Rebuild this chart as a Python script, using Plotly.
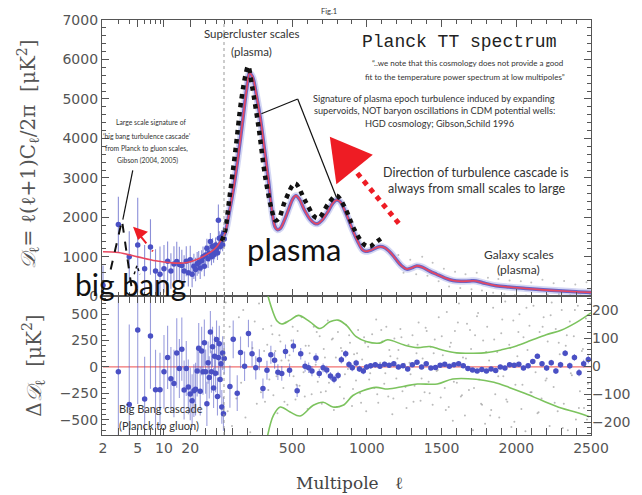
import numpy as np
import plotly.graph_objects as go

# ---------------- data ----------------
# best-fit model, top panel
model_l = [2, 3, 5, 8, 12, 18, 25, 32, 40, 46, 50, 80, 110, 140, 170, 195, 214, 235, 260, 287,
           315, 342, 365, 385, 400, 420, 450, 480, 505, 525, 550, 580, 620, 650, 670, 700, 740, 770, 796, 820,
           860, 900, 940, 970, 990, 1020, 1060, 1090, 1120, 1160, 1190, 1230, 1266, 1300, 1333, 1370, 1420, 1466, 1520, 1576,
           1630, 1690, 1731, 1790, 1864, 1950, 2063, 2180, 2284, 2400, 2500]
model_D = [1130, 1110, 1000, 900, 850, 850, 950, 1080, 1250, 1450, 1600, 2150, 2800, 3600, 4500, 5250, 5650, 5550, 5100, 4500,
           3700, 2900, 2150, 1760, 1690, 1720, 1950, 2250, 2480, 2550, 2450, 2200, 1950, 1850, 1840, 1930, 2150, 2350, 2440, 2400,
           2100, 1720, 1380, 1180, 1140, 1160, 1230, 1260, 1230, 1100, 960, 780, 690, 720, 770, 740, 640, 560, 470, 400,
           380, 390, 390, 330, 270, 235, 200, 165, 140, 115, 100]

# black dotted "turbulence cascade" curve
casc_l = [46, 50, 80, 120, 160, 190, 205, 231, 276, 320, 364, 387, 409, 453, 519, 586, 652, 680, 741, 796, 851, 918, 984, 1020, 1051, 1106]
casc_D = [1400, 1650, 2500, 3700, 5000, 5650, 5830, 5331, 4252, 3007, 2175, 1926, 1968, 2424, 2857, 2424, 2010, 1990, 2342, 2549, 2260, 1677, 1303, 1260, 1345, 1495]

# black dashed low-l "big bang" spike
bb_l = [2.45, 3.3, 4.3]
bb_D = [680, 1926, 150]
bb2_l = [4.55, 4.9, 5.3]
bb2_D = [560, 780, 560]

# low-l data points (top panel)
low_l = list(range(2, 50))
low_D = [280, 1820, 1000, 1300, 700, 1250, 640, 560, 700, 890, 640, 820, 880, 805, 780, 640, 890, 600, 930, 560,
         760, 680, 822, 860, 720, 900, 1000, 760, 1050, 1220, 950, 1100, 1387, 1000, 1263, 1050, 1138, 1300, 1200, 1100,
         1926, 1470, 1263, 1350, 1512, 1300, 1594, 1450]
low_err = [500, 700, 650, 1200, 600, 700, 550, 700, 600, 500, 450, 450, 500, 450, 400, 400, 380, 350, 350, 330,
           320, 300, 300, 290, 280, 270, 260, 250, 240, 240, 230, 220, 220, 210, 210, 200, 200, 190, 190, 180,
           400, 180, 170, 170, 170, 160, 160, 150]

# grey un-binned spectrum points at high l (top panel, estimated)
top_cloud_l = [1210, 1245, 1290, 1330, 1370, 1405, 1440, 1480, 1515, 1550, 1590, 1625, 1660, 1700, 1735, 1770, 1810, 1845,
               1880, 1920, 1955, 1990, 2030, 2065, 2100, 2140, 2175, 2210, 2250, 2285, 2320, 2360, 2395, 2430, 2470, 2495]
top_cloud_D = [1050, 600, 930, 560, 1000, 520, 850, 380, 700, 250, 620, 210, 560, 180, 600, 150, 470, 90,
               440, 60, 400, 30, 380, 20, 350, 10, 420, 40, 330, 60, 390, 30, 300, 20, 360, 50]

# residuals, bottom panel (left axis)
res_low_l = list(range(3, 50))
res_low = [-47, -357, 349, -304, 293, -217, -217, -47, 90, -112, -158, 131, -15, 168, -220, -15, -190, -257, -320, -226,
           -211, -40, 177, -230, 150, -45, 230, -45, -350, 40, -100, 330, -45, 190, -200, 100, -60, 260, -280, 90,
           220, -120, 30, -380, 131, -445, 80]
res_low_err = [800, 760, 700, 400, 500, 380, 350, 350, 300, 300, 320, 330, 280, 300, 280, 260, 260, 250, 250, 250,
               250, 240, 240, 230, 230, 220, 220, 210, 210, 200, 200, 200, 200, 190, 190, 190, 180, 180, 180, 170,
               170, 170, 170, 160, 160, 160, 150]

bin_l = [83, 105, 132, 154, 181, 207, 231, 256, 280, 304, 331, 357, 382, 404, 430, 455, 482, 508, 533, 557,
         586, 610, 632, 659, 681, 707, 731, 756, 780, 807, 829, 858, 880, 902, 928, 950, 976, 998, 1025,
         1056, 1087, 1118, 1149, 1180, 1211, 1242, 1273, 1304, 1335, 1366, 1397, 1428, 1459, 1490, 1521, 1552, 1583,
         1614, 1645, 1676, 1707, 1738, 1769, 1800, 1831, 1862, 1893, 1924, 1955, 1986, 2017, 2048, 2079, 2110, 2141,
         2172, 2203, 2234, 2265, 2296, 2327, 2358, 2389, 2420, 2451, 2482]
bin_res = [-187, 261, -249, 137, 6, 317, 124, -9, 68, -205, -31, 115, 62, -50, -62, 146, -31, 199, -227, 124,
           6, -9, -40, 84, -62, -9, -30, -87, -118, -81, 68, 124, 22, -9, 37, -19, -40, 0, 10,
           20, 5, 25, 15, 30, 0, 10, -20, 20, 45, 0, 30, -10, -5, 15, 25, 5, 20, 30, 10, -15, -30, -40, -25, -40, -20,
           -35, 0, -10, 20, 15, 25, -10, 10, 50, 100, 30, -10, 40, -40, 20, 130, 10, 90, -55, 30, 70]
bin_err = [200, 180, 170, 150, 140, 130, 120, 110, 100, 95, 90, 85, 80, 75, 70, 66, 62, 60, 58, 55,
           52, 50, 48, 46, 44, 42, 40, 38, 37, 36, 35, 34, 33, 32, 31, 30, 29, 28, 27,
           26, 25, 24, 23, 22, 22, 21, 21, 20, 20, 20, 19, 19, 19, 18, 18, 18, 18, 18, 18, 18, 18, 18, 18, 19, 19,
           19, 20, 20, 20, 21, 21, 22, 22, 23, 24, 25, 26, 27, 28, 29, 30, 32, 33, 35, 37, 39]

# green +/- envelope (right axis)
green_up_l = [338, 370, 400, 430, 486, 541, 619, 685, 752, 807, 862, 928, 995, 1084, 1139, 1250, 1340, 1420, 1500,
              1600, 1700, 1800, 1900, 2000, 2100, 2200, 2300, 2400, 2500]
green_up = [249, 195, 160, 150, 164, 181, 158, 134, 158, 164, 146, 105, 88, 82, 94, 75, 66, 70, 58,
            47, 46, 48, 58, 72, 92, 112, 128, 155, 190]
green_lo_l = [335, 375, 420, 486, 553, 641, 707, 773, 840, 906, 972, 1061, 1139, 1250, 1338, 1471, 1575, 1731,
              1850, 1952, 2060, 2173, 2300, 2400, 2489]
green_lo = [-249, -175, -146, -164, -178, -140, -129, -146, -140, -105, -88, -76, -82, -72, -64, -64, -46, -47,
            -58, -76, -98, -123, -150, -165, -181]

# grey un-binned residual cloud (estimated)
cloud_l = [55, 68, 81, 97, 112, 126, 143, 158, 172, 187, 203, 219, 234, 249, 263, 278, 291, 305, 318, 333, 347, 360,
           374, 387, 401, 414, 428, 441, 455, 468, 482, 495, 509, 522, 536, 549, 563, 576, 590, 603, 617, 630, 644, 657,
           671, 684, 698, 711, 725, 738, 752, 765, 779, 792, 806, 819, 833, 846, 860, 873, 887, 900, 914, 927, 941, 954,
           968, 981, 995, 1008, 1022, 1035, 1049, 1062, 1076, 1089, 1103, 1116, 1130, 1143, 1157, 1170, 1184, 1197, 1211,
           1224, 1238, 1251, 1265, 1278, 1292, 1305, 1319, 1332, 1346, 1359, 1373, 1386, 1400, 1413, 1427, 1440, 1454,
           1467, 1481, 1494, 1508, 1521, 1535, 1548, 1562, 1575, 1589, 1602, 1616, 1629, 1643, 1656, 1670, 1683, 1697,
           1710, 1724, 1737, 1751, 1764, 1778, 1791, 1805, 1818, 1832, 1845, 1859, 1872, 1886, 1899, 1913, 1926, 1940,
           1953, 1967, 1980, 1994, 2007, 2021, 2034, 2048, 2061, 2075, 2088, 2102, 2115, 2129, 2142, 2156, 2169, 2183,
           2196, 2210, 2223, 2237, 2250, 2264, 2277, 2291, 2304, 2318, 2331, 2345, 2358, 2372, 2385, 2399, 2412, 2426,
           2439, 2453, 2466, 2480, 2493]
cloud_v = [610, -420, 380, -560, 250, -300, 470, -150, 540, -480, 320, -620, 180, 430, -350, 600, -240, 360,
           -330, 210, -120, 390, -270, 150, -440, 300, 60, -200, 420, -360, 110, 250, -90, -310, 340, -180, 470, -50,
           200, -400, 130, -260, 380, 20, -140, 290, -350, 170, -230, 440, -80, 260, -410, 90, 330, -190, 150, -300,
           400, -20, 230, -370, 120, -130, 350, -250, 70, 280, -420, 190, -60, 310, -200, 450, -340, 40, 240, -160,
           380, -280, 100, -450, 270, -110, 160, 360, -230, 30, -390, 210, -70, 300, -180, 130, 420, -320, 80, -240,
           340, -140, 190, -360, 260, -40, 470, -290, 110, -200,
           520, -380, 230, -510, 340, -150, 600, -280, 90, -460, 410, -220, 170, -600, 300, 480, -120, -350, 250, -540,
           380, 60, -410, 560, -260, 140, -480, 320, -90, 620, -330, 210, -570, 440, -170, 100, 500, -400, 280, -610,
           160, 390, -240, 580, -50, -440, 330, -300, 470, -130, 240, -560, 610, -190, 360, -420, 120, 540, -350, 200,
           -600, 430, -80, 290, -500, 580, -230, 150, -390, 460, -160, 600, -320, 50, -450]
cloud2_l = [312, 340, 367, 395, 421, 448, 476, 503, 529, 557, 584, 611, 638, 664, 692, 719, 746, 772, 799, 826,
            853, 881, 907, 934, 961, 988, 1015, 1042, 1069, 1096, 1123, 1150, 1177, 1204, 1231, 1258, 1285, 1312, 1339, 1366,
            1393, 1420, 1447, 1474, 1501, 1528, 1555, 1582, 1609, 1636, 1663, 1690, 1717, 1744, 1771, 1798, 1825, 1852, 1879, 1906,
            1933, 1960, 1987, 2014, 2041, 2068, 2095, 2122, 2149, 2176, 2203, 2230, 2257, 2284, 2311, 2338, 2365, 2392, 2419, 2446,
            2473, 2498]
cloud2_v = [150, -220, 310, -90, 240, -330, 60, 380, -170, 110, -280, 200, -30, 330, -240, 90, -150, 270, -380, 180,
            -70, 300, -210, 130, -340, 230, -120, 20, -260, 350, -60, 160, -300, 80, 280, -190, 40, -330, 210, -110,
            370, -250, 130, -30, 290, -410, 190, -140, 420, -270, 80, 350, -200, 510, -360, 140, -460, 260, -90, 450,
            -310, 180, -520, 330, -170, 560, -240, 60, -430, 380, -110, 490, -340, 230, -580, 300, -60, 540, -390, 170,
            -500, 410]

x_major = [2, 5, 10, 20, 500, 1000, 1500, 2000, 2500]
x_major_text = ["2", "5", "10", "20", "500", "1000", "1500", "2000", "2500"]
x_minor = [3, 4, 6, 7, 8, 9, 30, 40, 50, 100, 200, 300, 400, 600, 700, 800, 900, 1100, 1200, 1300, 1400,
           1600, 1700, 1800, 1900, 2100, 2200, 2300, 2400]

# ---------------- geometry ----------------
W, H = 642, 495
L, R, T, B = 102, 47, 13, 60
PW, PH = W - L - R, H - T - B
SPLIT = (435 - 294) / PH


def xpos(l):
    """Planck hybrid axis: log for 2<=l<=50, linear for l>=50 (in page-pixel units)."""
    l = np.asarray(l, dtype=float)
    logpart = 103 + 123 * np.log10(np.clip(l, 1e-6, None) / 2) / np.log10(25)
    linpart = 226 + (l - 50) * (595 - 226) / 2450
    return np.where(l <= 50, logpart, linpart)


def P(px, py):
    return (px - L) / PW, (H - B - py) / PH


fig = go.Figure()

# ---- top panel ----
band_l = [l for l in model_l if l >= 46]
band_D = [d for l, d in zip(model_l, model_D) if l >= 46]
fig.add_trace(go.Scatter(x=xpos(top_cloud_l), y=top_cloud_D, mode="markers",
                         marker=dict(color="rgba(150,150,150,0.6)", size=2), xaxis="x", yaxis="y"))
fig.add_trace(go.Scatter(x=xpos(band_l), y=band_D, mode="lines", line=dict(color="rgba(170,175,232,0.5)", width=7, shape="spline"),
                         xaxis="x", yaxis="y", hoverinfo="skip"))
fig.add_trace(go.Scatter(x=xpos(band_l), y=band_D, mode="lines", line=dict(color="rgba(85,80,190,0.85)", width=3.5, shape="spline"),
                         xaxis="x", yaxis="y", hoverinfo="skip"))
fig.add_trace(go.Scatter(x=xpos(low_l), y=low_D, mode="markers",
                         marker=dict(color="#4a50c4", size=5.5),
                         error_y=dict(type="data", array=low_err, color="rgba(90,95,200,0.7)", thickness=1.1, width=0),
                         xaxis="x", yaxis="y"))
fig.add_trace(go.Scatter(x=xpos(model_l), y=model_D, mode="lines", line=dict(color="#e8475f", width=1.6, shape="spline"),
                         xaxis="x", yaxis="y"))
fig.add_trace(go.Scatter(x=xpos(casc_l), y=casc_D, mode="lines", line=dict(color="#111", width=4.5, dash="dot", shape="spline"),
                         xaxis="x", yaxis="y"))
fig.add_trace(go.Scatter(x=xpos(bb_l), y=bb_D, mode="lines", line=dict(color="#111", width=2, dash="dash"),
                         xaxis="x", yaxis="y"))
fig.add_trace(go.Scatter(x=xpos(bb2_l), y=bb2_D, mode="lines", line=dict(color="#111", width=1.5, dash="dot"),
                         xaxis="x", yaxis="y"))

# ---- bottom panel ----
fig.add_trace(go.Scatter(x=xpos(cloud_l[:len(cloud_v)]), y=cloud_v[:len(cloud_l)], mode="markers",
                         marker=dict(color="rgba(140,140,140,0.6)", size=2), xaxis="x2", yaxis="y2"))
fig.add_trace(go.Scatter(x=xpos(cloud2_l), y=cloud2_v, mode="markers",
                         marker=dict(color="rgba(140,140,140,0.6)", size=2), xaxis="x2", yaxis="y2"))
fig.add_trace(go.Scatter(x=xpos([2, 2500]), y=[0, 0], mode="lines", line=dict(color="#f07070", width=1.2),
                         xaxis="x2", yaxis="y2"))
fig.add_trace(go.Scatter(x=xpos(res_low_l), y=res_low, mode="markers",
                         marker=dict(color="#4a50c4", size=5.5),
                         error_y=dict(type="data", array=res_low_err, color="rgba(90,95,200,0.6)", thickness=1.1, width=0),
                         xaxis="x2", yaxis="y2"))
fig.add_trace(go.Scatter(x=xpos(bin_l), y=bin_res, mode="markers",
                         marker=dict(color="#4a50c4", size=5.5),
                         error_y=dict(type="data", array=bin_err, color="rgba(90,95,200,0.6)", thickness=1.1, width=0),
                         xaxis="x2", yaxis="y2"))
fig.add_trace(go.Scatter(x=xpos(green_up_l), y=green_up, mode="lines", line=dict(color="#7cc35e", width=1.6, shape="spline"),
                         xaxis="x2", yaxis="y3"))
fig.add_trace(go.Scatter(x=xpos(green_lo_l), y=green_lo, mode="lines", line=dict(color="#7cc35e", width=1.6, shape="spline"),
                         xaxis="x2", yaxis="y3"))

AX = "#555"
tickfont = dict(family="DejaVu Sans", size=14, color="#555")
xa = dict(range=[102, 595], showline=True, linecolor=AX, linewidth=1.2, mirror="allticks", ticks="inside",
          tickcolor=AX, ticklen=7, tickvals=list(xpos(x_major)), ticktext=x_major_text, showgrid=False, zeroline=False,
          minor=dict(tickmode="array", tickvals=list(xpos(x_minor)), ticks="inside", ticklen=4, tickcolor=AX))
fig.update_layout(
    width=W, height=H, margin=dict(l=L, r=R, t=T, b=B), paper_bgcolor="white", plot_bgcolor="white",
    showlegend=False,
    xaxis=dict(xa, anchor="y", showticklabels=False),
    xaxis2=dict(xa, anchor="y2", showticklabels=True, tickfont=dict(family="DejaVu Sans", size=14, color="#555")),
    yaxis=dict(domain=[SPLIT, 1], range=[0, 7000], dtick=1000, showline=True, linecolor=AX, linewidth=1.2,
               mirror="allticks", ticks="inside", tickcolor=AX, ticklen=7, tickfont=tickfont, showgrid=False,
               zeroline=False, minor=dict(dtick=200, ticks="inside", ticklen=4, tickcolor=AX)),
    yaxis2=dict(domain=[0, SPLIT], range=[-646, 669], tickvals=[-500, -250, 0, 250, 500],
                ticktext=["−500", "−250", "0", "250", "500"], showline=True, linecolor=AX, linewidth=1.2,
                mirror=True, ticks="inside", tickcolor=AX, ticklen=7, tickfont=tickfont, showgrid=False,
                zeroline=False, minor=dict(dtick=50, ticks="inside", ticklen=4, tickcolor=AX)),
    yaxis3=dict(overlaying="y2", side="right", anchor="x2", range=[-246, 249], tickvals=[-200, -100, 0, 100, 200],
                ticktext=["−200", "−100", "0", "100", "200"], ticks="inside", tickcolor=AX, ticklen=7,
                tickfont=dict(family="DejaVu Sans", size=14, color="#555"), showgrid=False, zeroline=False,
                showline=False, minor=dict(dtick=20, ticks="inside", ticklen=4, tickcolor=AX)),
)

# ---- shapes ----
shapes = []
shapes.append(dict(type="line", xref="x", yref="paper", x0=float(xpos(50)) - 1, x1=float(xpos(50)) - 1, y0=0, y1=1,
                   line=dict(color="#999", width=1, dash="dot")))


def seg(p1, p2, color="#111", width=1.2, dash="solid"):
    a, b = P(*p1), P(*p2)
    return dict(type="line", xref="paper", yref="paper", x0=a[0], y0=a[1], x1=b[0], y1=b[1],
                line=dict(color=color, width=width, dash=dash))


def tri(p1, p2, p3, color="#ee1c24"):
    pts = [P(*p) for p in (p1, p2, p3)]
    path = "M {} {} L {} {} L {} {} Z".format(pts[0][0], pts[0][1], pts[1][0], pts[1][1], pts[2][0], pts[2][1])
    return dict(type="path", xref="paper", yref="paper", path=path, fillcolor=color, line=dict(width=0))


shapes.append(seg((133, 166), (123, 216)))
shapes.append(seg((262.7, 108.3), (299.3, 93.3)))
shapes.append(seg((299.3, 93.3), (338.3, 193.3)))
shapes.append(seg((353, 161), (403, 222), color="#ee1c24", width=5, dash="dot"))
shapes.append(tri((331.7, 131.7), (375, 150), (338.3, 180)))
shapes.append(seg((141, 233), (153.3, 248.3), color="#ee1c24", width=2, dash="dash"))
shapes.append(tri((133.3, 223.3), (148.3, 228.3), (138.3, 236.7)))
fig.update_layout(shapes=shapes)

# ---- annotations ----
ann = []


def txt(text, px, py, size, family="Lato", color="#333", xanchor="center", angle=0):
    x, y = P(px, py)
    ann.append(dict(text=text, x=x, y=y, xref="paper", yref="paper", showarrow=False, xanchor=xanchor,
                    yanchor="middle", textangle=angle, font=dict(family=family, size=size, color=color)))


txt("Fig.1", 331, 4, 7.5)
txt("Supercluster scales", 253, 27, 11.5)
txt("(plasma)", 253, 45, 11.5)
txt("Planck TT spectrum", 462, 35, 18, family="Liberation Mono", color="#222")
txt("“..we note that this cosmology does not provide a good", 470, 57, 8)
txt("fit to the temperature power spectrum at low multipoles”", 468, 71, 8)
txt("Signature of plasma epoch turbulence induced by expanding", 437, 93, 9.2)
txt("supervoids, NOT baryon oscillations in CDM potential wells:", 437, 105, 9.2)
txt("HGD cosmology; Gibson,Schild 1996", 442, 118, 9.2)
txt("Direction of turbulence cascade is", 479, 168, 12.5)
txt("always from small scales to large", 480, 184, 12.5)
txt("Galaxy scales", 522, 251, 12)
txt("(plasma)", 522, 267, 12)
txt("Large scale signature of", 151, 117, 6.8)
txt("‘big bang turbulence cascade’", 147, 131, 6.8)
txt("from Planck to gluon scales,", 147, 144, 6.8)
txt("Gibson (2004, 2005)", 148, 156, 6.8)
txt("plasma", 296, 246, 31, color="#111")
txt("big bang", 131, 281, 30, color="#111")
txt("Big Bang cascade", 117, 408, 11, xanchor="left")
txt("(Planck to gluon)", 117, 425, 11, xanchor="left")
# axis titles
txt("<i>𝒟</i><sub>ℓ</sub>= ℓ(ℓ+1)C<sub>ℓ</sub>/2π  [μK<sup>2</sup>]", 28, 150, 20, family="DejaVu Serif", color="#555", angle=-90)
txt("Δ<i>𝒟</i><sub>ℓ</sub>  [μK<sup>2</sup>]", 33, 365, 20, family="DejaVu Serif", color="#555", angle=-90)
txt("Multipole   ℓ", 352, 484, 17, family="DejaVu Serif", color="#444")
fig.update_layout(annotations=ann)

fig.write_html("out.html")
